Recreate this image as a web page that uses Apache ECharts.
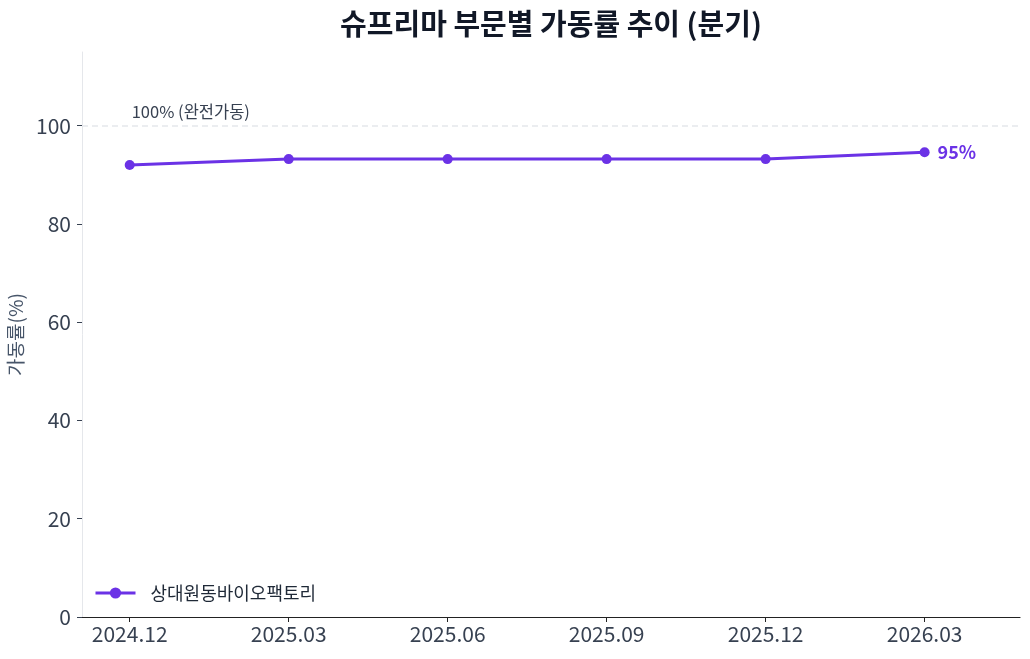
<!DOCTYPE html>
<html>
<head>
<meta charset="utf-8">
<script src="https://cdn.jsdelivr.net/npm/echarts@6/dist/echarts.min.js"></script>
<style>
  html, body { margin: 0; padding: 0; background: #fff; }
  #chart { width: 1030px; height: 659px; }
</style>
</head>
<body>
<div id="chart"></div>
<script>
// 분기 라벨과 가동률 값
const quarters = ['2024.12', '2025.03', '2025.06', '2025.09', '2025.12', '2026.03'];
const utilization = [92.0, 93.2, 93.2, 93.2, 93.2, 94.6];
const yTicks = [0, 20, 40, 60, 80, 100];
const seriesName = '상대원동바이오팩토리';
const fullLine = 100;

const FONT = '"Noto Sans CJK KR", "Noto Sans", sans-serif';
const PURPLE = '#6b32e6';

var points = utilization.map(function (v, i) { return [i, v]; });
var lastIdx = points.length - 1;

var option = {
    animation: false,
    textStyle: { fontFamily: FONT },
    title: {
        text: '슈프리마 부문별 가동률 추이 (분기)',
        left: 546,
        top: 4,
        textAlign: 'center',
        textStyle: { fontSize: 29, fontWeight: 'bold', color: '#111827', fontFamily: FONT }
    },
    grid: { left: 82, right: 10, top: 52, bottom: 42, outerBoundsMode: 'none' },
    legend: {
        left: 89,
        top: 579,
        itemWidth: 40,
        itemHeight: 14,
        lineStyle: { width: 3 },
        textStyle: { fontSize: 18, color: '#1f2937', fontFamily: FONT, padding: [0, 0, 0, 10] },
        data: [seriesName]
    },
    xAxis: {
        type: 'value',
        min: -0.3,
        max: 5.6,
        splitLine: { show: false },
        axisLine: { show: true, onZero: false, lineStyle: { color: '#222', width: 1.2 } },
        axisTick: { show: true, length: 5, customValues: [0, 1, 2, 3, 4, 5], lineStyle: { color: '#222' } },
        axisLabel: {
            customValues: [0, 1, 2, 3, 4, 5],
            formatter: function (v) { return quarters[Math.round(v)] || ''; },
            fontSize: 21, color: '#374151', margin: 7, fontFamily: FONT
        }
    },
    yAxis: {
        type: 'value',
        min: 0,
        max: 115,
        name: '가동률(%)',
        nameLocation: 'middle',
        nameGap: 51,
        nameTextStyle: { fontSize: 19, color: '#475569', fontFamily: FONT },
        splitLine: { show: false },
        axisLine: { show: true, onZero: false, lineStyle: { color: '#e5e7eb' } },
        axisTick: { show: true, length: 5, customValues: yTicks, lineStyle: { color: '#374151' } },
        axisLabel: { customValues: yTicks, fontSize: 21, color: '#374151', margin: 11, fontFamily: FONT }
    },
    series: [{
        name: seriesName,
        type: 'line',
        data: points,
        symbol: 'circle',
        symbolSize: 10,
        lineStyle: { color: PURPLE, width: 3 },
        itemStyle: { color: PURPLE },
        label: {
            show: true,
            position: 'right',
            distance: 8,
            fontSize: 18,
            fontWeight: 'bold',
            color: PURPLE,
            fontFamily: FONT,
            formatter: function (p) {
                return p.dataIndex === lastIdx ? Math.round(p.value[1]) + '%' : '';
            }
        },
        markLine: {
            silent: true,
            symbol: 'none',
            lineStyle: { color: '#e5e7eb', type: [6, 4], width: 1.5 },
            label: { show: false },
            data: [{ yAxis: fullLine }]
        },
        markPoint: {
            silent: true,
            symbol: 'circle',
            symbolSize: 0,
            label: {
                show: true,
                position: [2, -6],
                align: 'left',
                verticalAlign: 'bottom',
                fontSize: 16.5,
                color: '#374151',
                fontFamily: FONT,
                formatter: fullLine + '% (완전가동)'
            },
            data: [{ coord: [0, fullLine] }]
        }
    }]
};

var myChart = echarts.init(document.getElementById('chart'));
myChart.setOption(option);
</script>
</body>
</html>
